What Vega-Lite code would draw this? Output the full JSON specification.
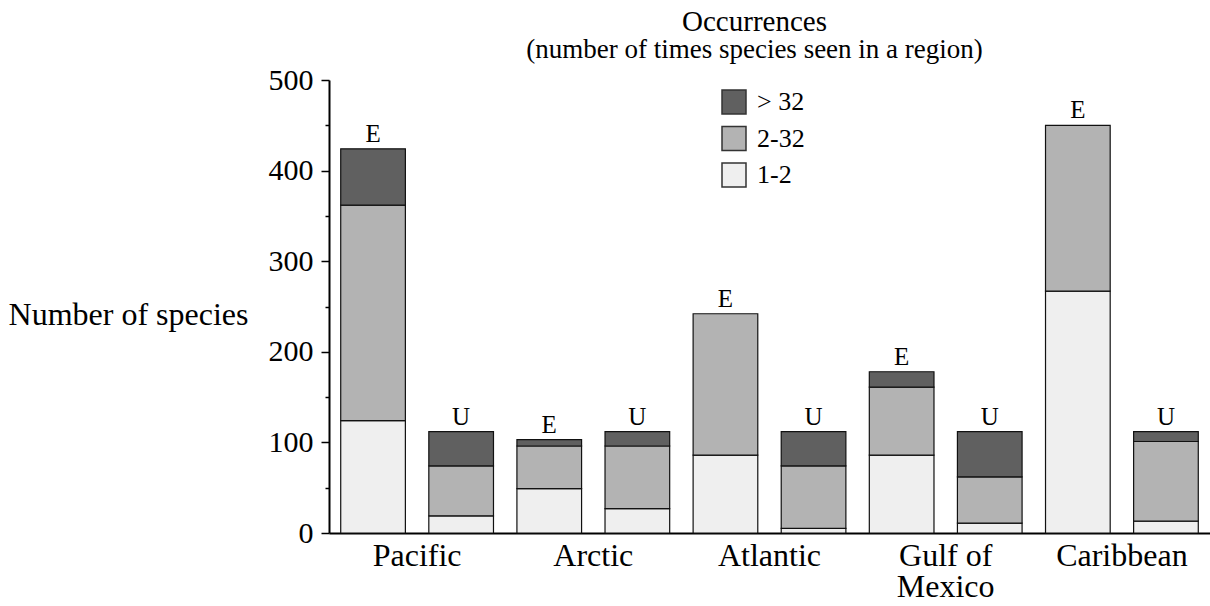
{
  "$schema": "https://vega.github.io/schema/vega-lite/v6.json",
  "autosize": {"type": "none"},
  "padding": {"left": 329, "top": 80, "right": 0, "bottom": 73},
  "width": 881,
  "height": 453,
  "background": "white",
  "config": {
    "view": {"stroke": null},
    "legend": {"labelFont": "Liberation Serif", "labelFontSize": 26, "labelColor": "black"}
  },
  "title": {
    "text": "Occurrences",
    "subtitle": "(number of times species seen in a region)",
    "font": "Liberation Serif",
    "fontSize": 29,
    "fontWeight": "normal",
    "color": "black",
    "subtitleFont": "Liberation Serif",
    "subtitleFontSize": 27,
    "subtitleColor": "black",
    "subtitlePadding": 0,
    "anchor": "middle",
    "frame": "group",
    "dx": -15,
    "offset": 2
  },
  "data": {
    "values": [
      {"region": "Pacific", "type": "E", "occ": "1-2", "count": 124},
      {"region": "Pacific", "type": "E", "occ": "2-32", "count": 238},
      {"region": "Pacific", "type": "E", "occ": "> 32", "count": 62},
      {"region": "Pacific", "type": "U", "occ": "1-2", "count": 19},
      {"region": "Pacific", "type": "U", "occ": "2-32", "count": 55},
      {"region": "Pacific", "type": "U", "occ": "> 32", "count": 38},
      {"region": "Arctic", "type": "E", "occ": "1-2", "count": 49},
      {"region": "Arctic", "type": "E", "occ": "2-32", "count": 47},
      {"region": "Arctic", "type": "E", "occ": "> 32", "count": 7},
      {"region": "Arctic", "type": "U", "occ": "1-2", "count": 27},
      {"region": "Arctic", "type": "U", "occ": "2-32", "count": 69},
      {"region": "Arctic", "type": "U", "occ": "> 32", "count": 16},
      {"region": "Atlantic", "type": "E", "occ": "1-2", "count": 86},
      {"region": "Atlantic", "type": "E", "occ": "2-32", "count": 156},
      {"region": "Atlantic", "type": "U", "occ": "1-2", "count": 5},
      {"region": "Atlantic", "type": "U", "occ": "2-32", "count": 69},
      {"region": "Atlantic", "type": "U", "occ": "> 32", "count": 38},
      {"region": "Gulf of Mexico", "type": "E", "occ": "1-2", "count": 86},
      {"region": "Gulf of Mexico", "type": "E", "occ": "2-32", "count": 75},
      {"region": "Gulf of Mexico", "type": "E", "occ": "> 32", "count": 17},
      {"region": "Gulf of Mexico", "type": "U", "occ": "1-2", "count": 11},
      {"region": "Gulf of Mexico", "type": "U", "occ": "2-32", "count": 51},
      {"region": "Gulf of Mexico", "type": "U", "occ": "> 32", "count": 50},
      {"region": "Caribbean", "type": "E", "occ": "1-2", "count": 267},
      {"region": "Caribbean", "type": "E", "occ": "2-32", "count": 183},
      {"region": "Caribbean", "type": "U", "occ": "1-2", "count": 13},
      {"region": "Caribbean", "type": "U", "occ": "2-32", "count": 88},
      {"region": "Caribbean", "type": "U", "occ": "> 32", "count": 11}
    ]
  },
  "encoding": {
    "x": {
      "field": "region",
      "type": "nominal",
      "sort": ["Pacific", "Arctic", "Atlantic", "Gulf of Mexico", "Caribbean"],
      "scale": {"paddingInner": 0, "paddingOuter": 0},
      "axis": {
        "title": null,
        "labelAngle": 0,
        "labelFont": "Liberation Serif",
        "labelFontSize": 32,
        "labelColor": "black",
        "labelPadding": 7,
        "labelLineHeight": 31,
        "labelExpr": "datum.value == 'Gulf of Mexico' ? ['Gulf of', 'Mexico'] : datum.label",
        "ticks": false,
        "domainColor": "black",
        "domainWidth": 2
      }
    },
    "xOffset": {
      "field": "type",
      "type": "nominal",
      "sort": ["E", "U"],
      "scale": {"paddingInner": 0.266, "paddingOuter": 0.133}
    }
  },
  "layer": [
    {
      "mark": {"type": "bar", "stroke": "#111", "strokeWidth": 1.2},
      "encoding": {
        "y": {
          "field": "count",
          "type": "quantitative",
          "stack": "zero",
          "scale": {"domain": [0, 500], "nice": false},
          "axis": {
            "title": "Number of species",
            "titleAngle": 0,
            "titleFont": "Liberation Serif",
            "titleFontSize": 32,
            "titleFontWeight": "normal",
            "titleColor": "black",
            "titleAlign": "right",
            "titleBaseline": "middle",
            "titleX": -81,
            "titleY": 234,
            "values": [0, 25, 50, 75, 100, 125, 150, 175, 200, 225, 250, 275, 300, 325, 350, 375, 400, 425, 450, 475, 500],
            "labelExpr": "datum.value % 100 === 0 ? datum.label : ''",
            "labelFont": "Liberation Serif",
            "labelFontSize": 30,
            "labelColor": "black",
            "labelPadding": 8,
            "labelFlush": false,
            "labelOverlap": false,
            "tickSize": {"condition": {"test": "datum.value % 100 === 0", "value": 8}, "value": 4},
            "tickColor": "black",
            "tickWidth": 1.5,
            "domainColor": "black",
            "domainWidth": 2,
            "grid": false
          }
        },
        "color": {
          "field": "occ",
          "type": "nominal",
          "scale": {"domain": ["> 32", "2-32", "1-2"], "range": ["#606060", "#b3b3b3", "#efefef"]},
          "legend": {
            "title": null,
            "orient": "none",
            "legendX": 392,
            "legendY": 9,
            "symbolType": "square",
            "symbolSize": 576,
            "symbolStrokeColor": "#333",
            "symbolStrokeWidth": 1.5,
            "labelFont": "Liberation Serif",
            "labelFontSize": 26,
            "labelColor": "black",
            "labelOffset": 10,
            "rowPadding": 6.5,
            "padding": 0,
            "encode": {"labels": {"update": {"font": {"value": "Liberation Serif"}, "fontSize": {"value": 26}}}}
          }
        },
        "order": {"field": "occ", "type": "nominal", "sort": "ascending"}
      }
    },
    {
      "transform": [
        {"aggregate": [{"op": "sum", "field": "count", "as": "total"}], "groupby": ["region", "type"]}
      ],
      "mark": {"type": "text", "font": "Liberation Serif", "fontSize": 25, "baseline": "alphabetic", "dy": -7, "color": "black"},
      "encoding": {
        "y": {"field": "total", "type": "quantitative"},
        "text": {"field": "type"}
      }
    }
  ]
}
